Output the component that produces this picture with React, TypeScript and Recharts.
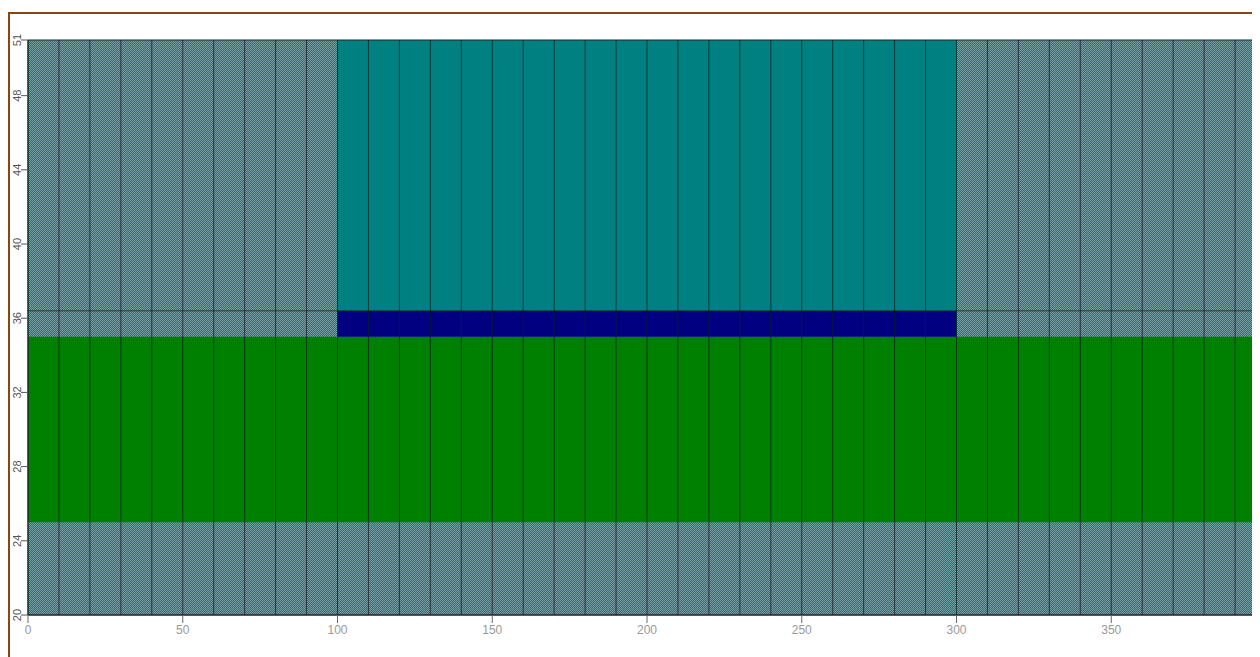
import React from "react";
import { ComposedChart, Line, XAxis, YAxis, ReferenceArea, ReferenceLine } from "recharts";

// axis ticks
const X_TICKS = [0, 50, 100, 150, 200, 250, 300, 350, 400];
const Y_TICKS = [20, 24, 28, 32, 36, 40, 44, 48, 51];

// vertical grid columns
const GRID_X = [10, 20, 30, 40, 50, 60, 70, 80, 90, 100, 110, 120, 130, 140, 150, 160, 170, 180, 190, 200,
  210, 220, 230, 240, 250, 260, 270, 280, 290, 300, 310, 320, 330, 340, 350, 360, 370, 380, 390];

// horizontal level line across the section
const LEVEL_X = [0, 400];
const LEVEL_Y = [36.4, 36.4];

// layers: x range and y range
const LAYER_NAMES = ["Green layer", "Navy layer", "Teal block"];
const LAYER_X = [[0, 400], [100, 300], [100, 300]];
const LAYER_Y = [[25, 35], [35, 36.4], [36.4, 51]];
const LAYER_COLORS = ["#008000", "#000080", "#008080"];

const levelData = LEVEL_X.map((x, i) => ({ x, level: LEVEL_Y[i] }));

const YTick = (props: any) => {
  const { y, payload } = props;
  return (
    <text
      x={0}
      y={0}
      transform={`translate(13, ${y}) rotate(-90)`}
      textAnchor="middle"
      fontSize={11}
      fill="#555"
      fontFamily="Liberation Sans, Arial, sans-serif"
    >
      {payload.value}
    </text>
  );
};

export default function App() {
  return (
    <div style={{ position: "relative", width: 1252, height: 649, overflow: "hidden" }}>
      <svg width={0} height={0} style={{ position: "absolute" }}>
        <defs>
          <pattern id="hatch" width={2} height={2} patternUnits="userSpaceOnUse">
            <rect x={0} y={0} width={2} height={2} fill="#1f7471" />
            <rect x={0} y={0} width={1} height={1} fill="#76a3a2" />
            <rect x={1} y={1} width={1} height={1} fill="#76a3a2" />
          </pattern>
        </defs>
      </svg>
      <div
        style={{
          position: "absolute",
          left: 0,
          top: 4,
          width: 2000,
          height: 2000,
          borderLeft: "2px solid #8a4510",
          borderTop: "2px solid #8a4510",
        }}
      />
      <div style={{ position: "absolute", left: 0, top: 0 }}>
        <ComposedChart
          width={1270}
          height={649}
          data={levelData}
          margin={{ top: 32, right: 12, bottom: 12, left: 0 }}
        >
          <XAxis
            dataKey="x"
            type="number"
            domain={[0, 400]}
            ticks={X_TICKS}
            interval={0}
            height={30}
            tickSize={8}
            axisLine={{ stroke: "#222" }}
            tickLine={{ stroke: "#666" }}
            tick={{ fontSize: 12, fill: "#999", fontFamily: "Liberation Sans, Arial, sans-serif" }}
          />
          <YAxis
            type="number"
            domain={[20, 51]}
            ticks={Y_TICKS}
            interval={0}
            width={20}
            tickSize={7}
            allowDataOverflow
            axisLine={{ stroke: "#222" }}
            tickLine={{ stroke: "#555" }}
            tick={<YTick />}
          />
          <ReferenceArea x1={0} x2={400} y1={20} y2={51} fill="url(#hatch)" fillOpacity={1} stroke="none" />
          {LAYER_NAMES.map((name, i) => (
            <ReferenceArea
              key={name}
              x1={LAYER_X[i][0]}
              x2={LAYER_X[i][1]}
              y1={LAYER_Y[i][0]}
              y2={LAYER_Y[i][1]}
              fill={LAYER_COLORS[i]}
              fillOpacity={1}
              stroke="none"
            />
          ))}
          {GRID_X.map((x) => (
            <ReferenceLine key={x} x={x} stroke="#06201f" strokeOpacity={0.75} />
          ))}
          <Line
            dataKey="level"
            stroke="#06201f"
            strokeOpacity={0.7}
            strokeWidth={1}
            dot={false}
            activeDot={false}
            isAnimationActive={false}
          />
          <ReferenceArea x1={0} x2={400} y1={20} y2={51} fill="none" stroke="#1a2a2a" strokeWidth={1} />
        </ComposedChart>
      </div>
    </div>
  );
}
